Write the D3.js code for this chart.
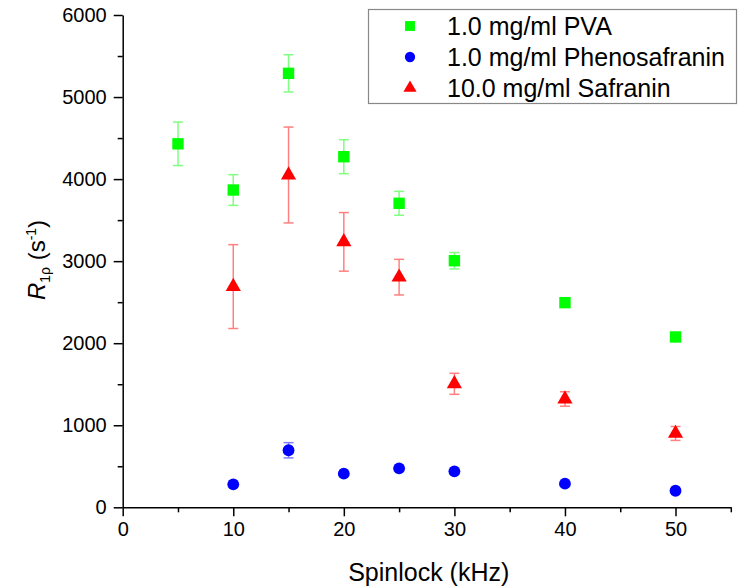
<!DOCTYPE html>
<html lang="en">
<head>
<meta charset="UTF-8">
<title>R1rho vs spinlock</title>
<script src="https://d3js.org/d3.v7.min.js"></script>
<style>
  body { margin: 0; background: #fff; }
  svg { display: block; font-family: "Liberation Sans", Arial, sans-serif; }
  .axis path, .axis line { stroke: #000; stroke-width: 1.5px; }
  .axis text { font-size: 20px; fill: #000; font-family: "Liberation Sans", Arial, sans-serif; }
</style>
</head>
<body>
<svg id="chart" width="743" height="588"></svg>
<script>
// spinlock frequencies (kHz)
var pvaX = [5, 10, 15, 20, 25, 30, 40, 50];
var pvaY = [4430, 3867, 5289, 4273, 3705, 3005, 2494, 2076];
var pvaErr = [265, 187, 227, 207, 146, 100, 40, 50];

var phenoX = [10, 15, 20, 25, 30, 40, 50];
var phenoY = [280, 695, 410, 475, 438, 288, 202];
var phenoErr = [20, 93, 20, 20, 20, 20, 20];

var safX = [10, 15, 20, 25, 30, 40, 50];
var safY = [2690, 4050, 3235, 2805, 1505, 1320, 900];
var safErr = [511, 584, 357, 217, 128, 88, 85];

var xTicks = [0, 10, 20, 30, 40, 50];
var yTicks = [0, 1000, 2000, 3000, 4000, 5000, 6000];

var series = [
  {name: "1.0 mg/ml PVA", x: pvaX, y: pvaY, err: pvaErr, color: "#00ff00", bar: "#80ff80", shape: d3.symbolSquare, size: 130},
  {name: "1.0 mg/ml Phenosafranin", x: phenoX, y: phenoY, err: phenoErr, color: "#0000ff", bar: "#8080ff", shape: d3.symbolCircle, size: 110},
  {name: "10.0 mg/ml Safranin", x: safX, y: safY, err: safErr, color: "#ff0000", bar: "#ff8080", shape: d3.symbolTriangle, size: 100}
];

var svg = d3.select("#chart");
var x = d3.scaleLinear().domain([0, 55]).range([122.7, 730.8]);
var y = d3.scaleLinear().domain([0, 6000]).range([507.3, 15]);

// minor ticks
svg.append("g").attr("class", "axis")
  .attr("transform", "translate(0,507.3)")
  .call(d3.axisBottom(x).tickValues(d3.range(5, 56, 10)).tickSize(5).tickFormat(""))
  .select(".domain").remove();
svg.append("g").attr("class", "axis")
  .attr("transform", "translate(122.7,0)")
  .call(d3.axisLeft(y).tickValues(d3.range(500, 6000, 1000)).tickSize(5).tickFormat(""))
  .select(".domain").remove();

// major axes
svg.append("g").attr("class", "axis")
  .attr("transform", "translate(0,507.3)")
  .call(d3.axisBottom(x).tickValues(xTicks).tickSize(9).tickSizeOuter(0).tickPadding(6).tickFormat(d3.format("d")));
svg.append("g").attr("class", "axis")
  .attr("transform", "translate(122.7,0)")
  .call(d3.axisLeft(y).tickValues(yTicks).tickSize(9).tickSizeOuter(0).tickPadding(7).tickFormat(d3.format("d")));

// axis titles
svg.append("text")
  .attr("x", x(27.5) + 2).attr("y", 581)
  .attr("text-anchor", "middle")
  .style("font-size", "25px")
  .text("Spinlock (kHz)");

var yl = svg.append("text")
  .attr("transform", "translate(45,260) rotate(-90)")
  .attr("text-anchor", "middle")
  .style("font-size", "24px");
yl.append("tspan").style("font-style", "italic").text("R");
yl.append("tspan").attr("dy", 5).style("font-size", "14px").text("1ρ");
yl.append("tspan").attr("dy", -5).text(" (s");
yl.append("tspan").attr("dy", -9).style("font-size", "14px").text("-1");
yl.append("tspan").attr("dy", 9).text(")");

// points + error bars
series.forEach(function(s) {
  var g = svg.append("g");
  var pts = s.x.map(function(v, i) { return {x: v, y: s.y[i], e: s.err[i]}; });
  var eb = g.selectAll(".eb").data(pts).enter().append("g")
    .attr("stroke", s.bar).attr("stroke-width", 1.5);
  eb.append("line")
    .attr("x1", function(d) { return x(d.x); }).attr("x2", function(d) { return x(d.x); })
    .attr("y1", function(d) { return y(d.y + d.e); }).attr("y2", function(d) { return y(d.y - d.e); });
  eb.append("line")
    .attr("x1", function(d) { return x(d.x) - 5; }).attr("x2", function(d) { return x(d.x) + 5; })
    .attr("y1", function(d) { return y(d.y + d.e); }).attr("y2", function(d) { return y(d.y + d.e); });
  eb.append("line")
    .attr("x1", function(d) { return x(d.x) - 5; }).attr("x2", function(d) { return x(d.x) + 5; })
    .attr("y1", function(d) { return y(d.y - d.e); }).attr("y2", function(d) { return y(d.y - d.e); });
  g.selectAll(".pt").data(pts).enter().append("path")
    .attr("d", d3.symbol().type(s.shape).size(s.size))
    .attr("transform", function(d) { return "translate(" + x(d.x) + "," + y(d.y) + ")"; })
    .attr("fill", s.color);
});

// legend
var lg = svg.append("g");
lg.append("rect")
  .attr("x", 368.5).attr("y", 9.5).attr("width", 368).attr("height", 94)
  .attr("fill", "#fff").attr("stroke", "#888").attr("stroke-width", 1.2);
series.forEach(function(s, i) {
  var cy = 26 + i * 31;
  lg.append("path")
    .attr("d", d3.symbol().type(s.shape).size(s.size * 0.75))
    .attr("transform", "translate(410," + cy + ")")
    .attr("fill", s.color);
  lg.append("text")
    .attr("x", 447).attr("y", cy + 9)
    .style("font-size", "25px")
    .text(s.name);
});
</script>
</body>
</html>
